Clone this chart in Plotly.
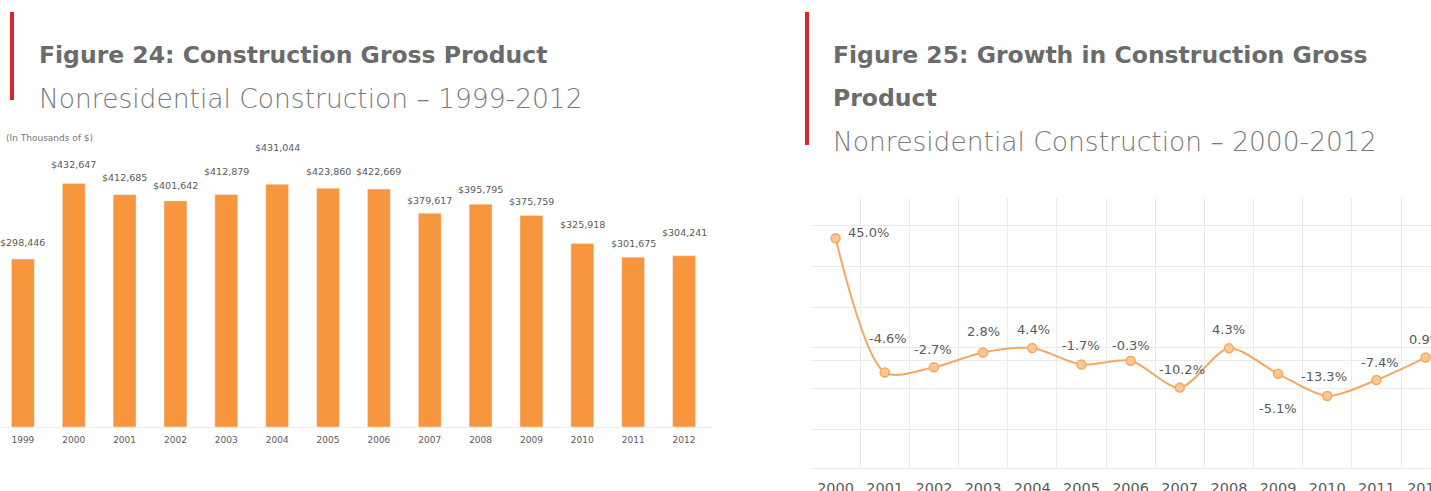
import plotly.graph_objects as go

# ---- data ----
years_gp = ["1999", "2000", "2001", "2002", "2003", "2004", "2005",
            "2006", "2007", "2008", "2009", "2010", "2011", "2012"]
gross_product = [298446, 432647, 412685, 401642, 412879, 431044, 423860,
                 422669, 379617, 395795, 375759, 325918, 301675, 304241]

years_gr = ["2000", "2001", "2002", "2003", "2004", "2005", "2006",
            "2007", "2008", "2009", "2010", "2011", "2012"]
growth = [45.0, -4.6, -2.7, 2.8, 4.4, -1.7, -0.3, -10.2, 4.3, -5.1, -13.3, -7.4, 0.9]

title_left = "Figure 24: Construction Gross Product"
sub_left = "Nonresidential Construction – 1999-2012"
title_right_1 = "Figure 25: Growth in Construction Gross"
title_right_2 = "Product"
sub_right = "Nonresidential Construction – 2000-2012"
units_note = "(In Thousands of $)"

# ---- style ----
W, H = 1431, 491
GRAY = "#6b6b6b"
SUBGRAY = "#7a7a7a"
LABEL = "#5a5a5a"
ORANGE_BAR = "#f7963d"
ORANGE_LINE = "#f6a860"
RED = "#d7262e"
GRID = "#ebebeb"
FONT = "DejaVu Sans"

# per-label offsets for the growth chart (pixels)
gr_xshift = [33, 3, -1, 0, 1, 0, 0, 2, 0, 0, -3, 4, 0]
gr_yshift = [6, 34, 18, 21, 19, 19, 15, 18, 19, -35, 19, 18, 18]
# per-label offsets for the bar chart (pixels)
gp_yshift = [16, 19, 17, 15, 23, 37, 17, 18, 13, 15, 14, 19, 14, 23]

def px_x(p):
    return p / W

def px_y(p):
    return 1 - p / H

fig = go.Figure()

fig.add_trace(go.Bar(
    x=years_gp, y=gross_product, marker_color=ORANGE_BAR,
    xaxis="x", yaxis="y", showlegend=False, hoverinfo="x+y",
))

fig.add_trace(go.Scatter(
    x=years_gr, y=growth, mode="lines+markers",
    line=dict(color=ORANGE_LINE, width=2, shape="spline", smoothing=0.8),
    marker=dict(size=9, color="#fbc795", line=dict(color=ORANGE_LINE, width=1.5)),
    xaxis="x2", yaxis="y2", showlegend=False, cliponaxis=False,
))

annotations = []
# category axes: annotation x given as the category's serial index
for i, v in enumerate(gross_product):
    annotations.append(dict(
        x=i, y=v, xref="x", yref="y", text=f"${v:,}", showarrow=False,
        yshift=gp_yshift[i], font=dict(family=FONT, size=9.5, color=LABEL),
    ))
for i, v in enumerate(growth):
    annotations.append(dict(
        x=i, y=v, xref="x2", yref="y2", text=f"{v:.1f}%", showarrow=False,
        xshift=gr_xshift[i], yshift=gr_yshift[i],
        font=dict(family=FONT, size=13, color=LABEL),
    ))

def text_ann(txt, x, y, size, weight=400, color=GRAY):
    return dict(text=txt, x=px_x(x), y=px_y(y), xref="paper", yref="paper",
                xanchor="left", yanchor="middle", showarrow=False,
                font=dict(family=FONT, size=size, color=color, weight=weight))

annotations += [
    text_ann(title_left, 37, 55, 23.5, 700),
    text_ann(sub_left, 37, 99, 26.5, 200, SUBGRAY),
    text_ann(units_note, 4, 138, 9, 400, "#777777"),
    text_ann(title_right_1, 831, 55, 23.5, 700),
    text_ann(title_right_2, 831, 98, 23.5, 700),
    text_ann(sub_right, 831, 142, 26.5, 200, SUBGRAY),
]

shapes = [
    dict(type="rect", xref="paper", yref="paper", x0=px_x(10), x1=px_x(14),
         y0=px_y(100), y1=px_y(12), fillcolor=RED, line_width=0),
    dict(type="rect", xref="paper", yref="paper", x0=px_x(805), x1=px_x(809),
         y0=px_y(145), y1=px_y(12), fillcolor=RED, line_width=0),
]

# value -> pixel mapping of growth chart: zero at 360 px, 2.705 px per %
g_top, g_bot = (360 - 198) / 2.705, (360 - 468) / 2.705

fig.update_layout(
    width=W, height=H, margin=dict(l=0, r=0, t=0, b=0),
    paper_bgcolor="white", plot_bgcolor="white",
    bargap=0.55, annotations=annotations, shapes=shapes,
    font=dict(family=FONT, color=LABEL),
    xaxis=dict(domain=[0, px_x(712)], range=[-0.45, 13.55], type="category",
               anchor="y", automargin=False,
               showgrid=False, showline=True, linecolor="#ececec", linewidth=1,
               ticks="", tickfont=dict(size=9, color=LABEL), ticklabelstandoff=4),
    yaxis=dict(domain=[px_y(427), px_y(140)], range=[0, (427 - 140) / 0.000563],
               visible=False, anchor="x", automargin=False),
    xaxis2=dict(domain=[px_x(811), 1], range=[-0.5, 12.11], type="category",
                anchor="y2", automargin=False,
                showgrid=True, gridcolor=GRID, tickson="boundaries", ticks="",
                showline=True, linecolor=GRID, linewidth=1,
                tickfont=dict(size=14.5, color=LABEL), ticklabelstandoff=7),
    yaxis2=dict(domain=[px_y(468), px_y(198)], range=[g_bot, g_top],
                anchor="x2", automargin=False,
                showgrid=True, gridcolor=GRID, tick0=4.44, dtick=15.08,
                zeroline=True, zerolinecolor=GRID, zerolinewidth=1,
                showticklabels=False, ticks=""),
)

fig.write_html("out.html")
